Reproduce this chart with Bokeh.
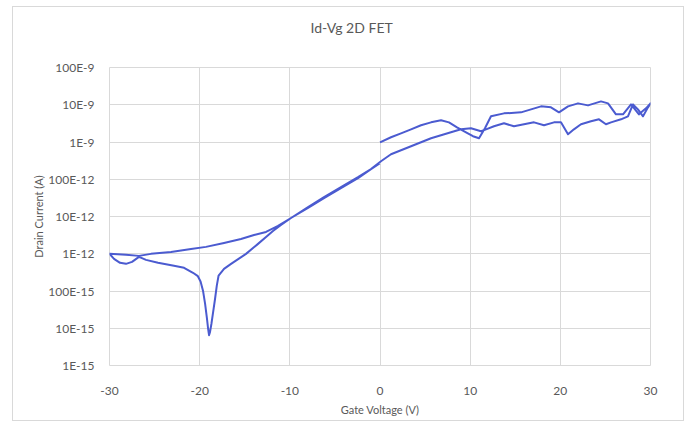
from bokeh.plotting import figure
from bokeh.models import FixedTicker, CustomJSTickFormatter, Title, InlineStyleSheet
from bokeh.embed import file_html
from bokeh.resources import INLINE

# ---- data ----
# forward sweep 0 V -> +30 V
fwd_pos_v = [0.0, 1.22, 2.33, 3.44, 4.55, 5.66, 6.77, 7.65, 8.54, 9.54, 10.31, 10.98,
             11.64, 12.31, 13.75, 15.64, 16.75, 17.86, 18.96, 19.85, 20.85, 21.96,
             23.07, 24.51, 25.29, 26.17, 26.95, 27.84, 28.72, 29.5, 30.0]
fwd_pos_i = [9.8e-10, 1.34e-9, 1.71e-9, 2.19e-9, 2.81e-9, 3.37e-9, 3.82e-9, 3.37e-9,
             2.48e-9, 1.82e-9, 1.43e-9, 1.26e-9, 2.33e-9, 4.89e-9, 5.87e-9, 6.25e-9,
             7.52e-9, 9.06e-9, 8.51e-9, 6.25e-9, 9.06e-9, 1.09e-8, 9.62e-9, 1.23e-8,
             1.09e-8, 5.52e-9, 5.52e-9, 1.02e-8, 5.52e-9, 8.0e-9, 1.09e-8]

# reverse sweep +30 V -> -30 V
rev_v = [30.0, 29.72, 29.17, 28.61, 28.06, 27.5, 26.73, 25.62, 25.06, 24.29, 23.4,
         22.29, 21.51, 20.85, 20.07, 19.3, 18.19, 17.08, 15.97, 14.86, 13.75, 12.64,
         11.76, 11.2, 10.09, 8.98, 7.87, 5.66, 3.44, 1.22, 0.11, -1.0, -2.44, -4.33,
         -6.21, -7.98, -9.87, -11.31, -12.64, -13.97, -15.42, -17.3, -19.3, -20.96,
         -23.18, -25.4, -26.73, -28.17, -30.0]
rev_i = [1.09e-8, 8.51e-9, 4.89e-9, 7.52e-9, 1.02e-8, 4.89e-9, 4.06e-9, 3.37e-9,
         2.99e-9, 4.06e-9, 3.59e-9, 2.99e-9, 2.19e-9, 1.61e-9, 3.37e-9, 3.37e-9,
         2.81e-9, 3.37e-9, 2.99e-9, 2.64e-9, 3.18e-9, 2.64e-9, 2.19e-9, 1.94e-9,
         2.33e-9, 2.19e-9, 1.82e-9, 1.26e-9, 7.69e-10, 4.70e-10, 3.05e-10, 1.87e-10,
         1.07e-10, 5.79e-11, 3.13e-11, 1.69e-11, 9.12e-12, 5.57e-12, 3.85e-12,
         3.20e-12, 2.50e-12, 1.95e-12, 1.53e-12, 1.35e-12, 1.12e-12, 9.93e-13,
         8.77e-13, 9.33e-13, 1.0e-12]

# forward sweep -30 V -> 0 V
fwd_neg_v = [-30.0, -29.5, -28.83, -28.17, -27.5, -26.73, -25.95, -24.62, -22.85,
             -21.73, -20.74, -20.2, -19.9, -19.63, -19.4, -19.2, -19.07, -18.96,
             -18.85, -18.7, -18.52, -18.3, -18.1, -17.9, -17.3, -16.52, -14.86,
             -13.53, -12.64, -11.87, -10.98, -9.87, -7.98, -6.21, -4.33, -2.44,
             -1.0, 0.0]
fwd_neg_i = [1.0e-12, 7.29e-13, 5.70e-13, 5.36e-13, 6.07e-13, 8.24e-13, 6.85e-13,
             5.70e-13, 4.74e-13, 4.19e-13, 3.08e-13, 2.5e-13, 1.8e-13, 1.02e-13,
             4.6e-14, 1.9e-14, 1.0e-14, 6.5e-15, 8.0e-15, 1.3e-14, 2.6e-14, 6.0e-14,
             1.4e-13, 2.6e-13, 3.94e-13, 5.36e-13, 9.93e-13, 1.84e-12, 2.83e-12,
             4.09e-12, 5.93e-12, 9.12e-12, 1.79e-11, 3.33e-11, 6.17e-11, 1.14e-10,
             1.87e-10, 2.70e-10]

x_ticks = [-30, -20, -10, 0, 10, 20, 30]
x_tick_labels = ["-30", "-20", "-10", "0", "10", "20", "30"]
y_ticks = [1e-15, 1e-14, 1e-13, 1e-12, 1e-11, 1e-10, 1e-9, 1e-8, 1e-7]
y_tick_labels = ["1E-15", "10E-15", "100E-15", "1E-12", "10E-12", "100E-12",
                 "1E-9", "10E-9", "100E-9"]

title_text = "Id-Vg 2D FET"
x_label = "Gate Voltage (V)"
y_label = "Drain Current (A)"

# ---- styling ----
FONT = "Lato"
TXT = "#595959"
GRID = "#d9d9d9"
LINE = "#4b5bd0"

p = figure(width=672, height=433, output_backend="svg", toolbar_location=None,
           y_axis_type="log", x_range=(-30, 30), y_range=(1e-15, 1e-7),
           min_border_left=97, min_border_right=34, min_border_top=78,
           min_border_bottom=56, background_fill_color="white",
           border_fill_color="white", outline_line_color=GRID)
p.styles = {"margin-left": "12px", "margin-top": "-12px"}
# light chart-area border (starts below the hidden top strip of the canvas)
p.stylesheets = [InlineStyleSheet(css="""
:host { position: relative; }
:host::after {
  content: ""; position: absolute; left: 0; right: 0; top: 18px; bottom: 0;
  border: 1px solid #d9d9d9; pointer-events: none; z-index: 10;
}
""")]

t = Title(text=title_text, align="left", offset=201, standoff=60,
          vertical_align="top",
          text_font=FONT, text_font_size="14px", text_font_style="normal",
          text_color=TXT)
p.add_layout(t, "above")

all_v = fwd_pos_v + rev_v + fwd_neg_v
all_i = fwd_pos_i + rev_i + fwd_neg_i
p.line(all_v, all_i, line_color=LINE, line_width=2, line_join="round")

# x axis
xa = p.xaxis[0]
xa.ticker = FixedTicker(ticks=x_ticks)
xa.major_label_overrides = {k: v for k, v in zip(x_ticks, x_tick_labels)}
xa.axis_label = x_label
# y axis
ya = p.yaxis[0]
ya.ticker = FixedTicker(ticks=y_ticks)
ya.formatter = CustomJSTickFormatter(args=dict(tick_vals=y_ticks, labels=y_tick_labels), code="""
const lt = Math.log10(tick);
for (let i = 0; i < tick_vals.length; i++) {
  if (Math.abs(Math.log10(tick_vals[i]) - lt) < 1e-6) return labels[i];
}
return "";
""")
ya.axis_label = y_label

for ax in (xa, ya):
    ax.axis_line_color = None
    ax.major_tick_line_color = None
    ax.minor_tick_line_color = None
    ax.major_tick_out = 0
    ax.major_tick_in = 0
    ax.major_label_text_font = FONT
    ax.major_label_text_font_size = "12px"
    ax.major_label_text_color = TXT
    ax.axis_label_text_font = FONT
    ax.axis_label_text_font_size = "11px"
    ax.axis_label_text_font_style = "normal"
    ax.axis_label_text_color = TXT

xa.major_label_standoff = 21
xa.axis_label_standoff = 5
ya.major_label_standoff = 15
ya.axis_label_standoff = 0

p.xgrid.grid_line_color = GRID
p.ygrid.grid_line_color = GRID
p.xgrid.ticker = FixedTicker(ticks=x_ticks)
p.ygrid.ticker = FixedTicker(ticks=y_ticks)

open("out.html", "w").write(file_html(p, INLINE))
